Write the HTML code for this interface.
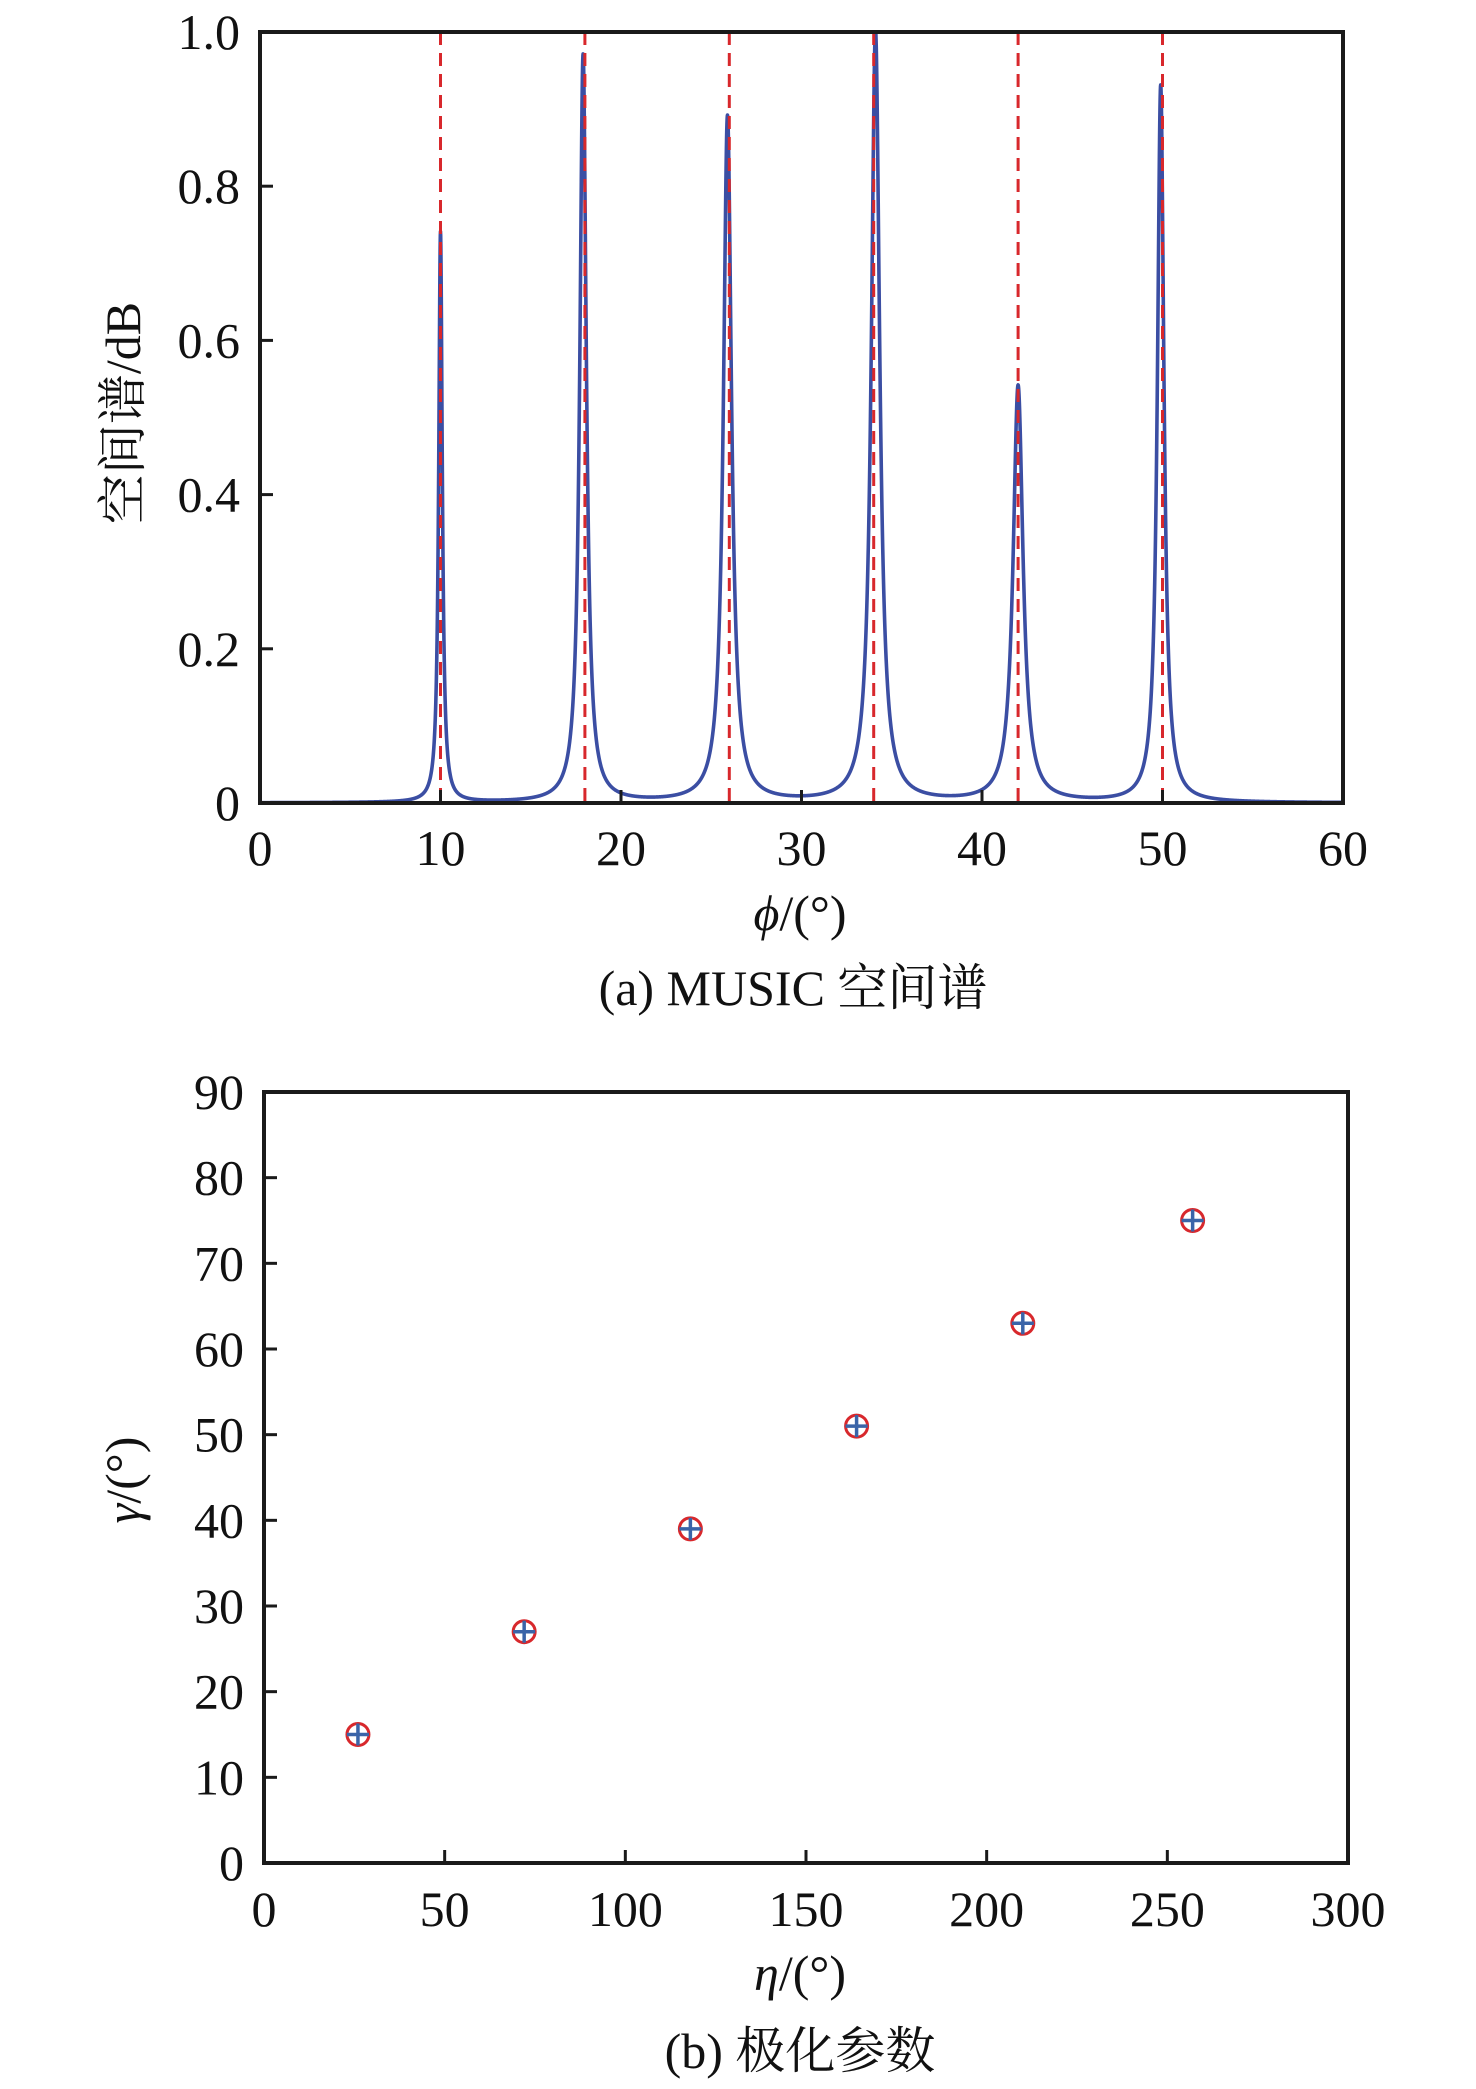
<!DOCTYPE html>
<html><head><meta charset="utf-8"><style>
html,body{margin:0;padding:0;background:#fff;}
svg{display:block;}
text{font-family:"Liberation Serif","Noto Serif CJK SC","Noto Sans CJK SC",serif;fill:#111;}
</style></head><body>
<svg id="fig" width="1476" height="2089" viewBox="0 0 1476 2089" xmlns="http://www.w3.org/2000/svg">
<g id="chartA"></g>
<g id="chartB"></g>
</svg>
<script>
// Chart A data
const aXTicks = [0,10,20,30,40,50,60];
const aYTicks = [0,0.2,0.4,0.6,0.8,1.0];
const aYTickLabels = ["0","0.2","0.4","0.6","0.8","1.0"];
const trueAngles = [10,18,26,34,42,50];
const peakAngles = [10.0,17.9,25.9,34.1,42.0,49.9];
const peakHeights = [0.74,0.97,0.89,1.0,0.54,0.93];
const peakWidths = [0.12,0.22,0.27,0.28,0.33,0.22];
// Chart B data
const bXTicks = [0,50,100,150,200,250,300];
const bYTicks = [0,10,20,30,40,50,60,70,80,90];
const etaVals = [26,72,118,164,210,257];
const gammaVals = [15,27,39,51,63,75];

const NS="http://www.w3.org/2000/svg";
function mk(parent,tag,attrs,txt){const e=document.createElementNS(NS,tag);for(const k in attrs)e.setAttribute(k,attrs[k]);if(txt!==undefined)e.textContent=txt;parent.appendChild(e);return e;}

// ---- Chart A ----
const A={l:260,r:1343,t:32,b:803,x0:0,x1:60,y0:0,y1:1};
const ax=v=>A.l+(v-A.x0)/(A.x1-A.x0)*(A.r-A.l);
const ay=v=>A.b-(v-A.y0)/(A.y1-A.y0)*(A.b-A.t);
const gA=document.getElementById('chartA');
let pts=[];
for(let i=0;i<=6000;i++){const x=i/100;let y=0;for(let k=0;k<peakAngles.length;k++){const w=peakWidths[k],d=x-peakAngles[k];y+=peakHeights[k]*w*w/(d*d+w*w);}y=Math.min(y,1);pts.push(ax(x).toFixed(2)+','+ay(y).toFixed(2));}
const curve=mk(gA,'polyline',{points:pts.join(' '),fill:'none',stroke:'#3b4ea3','stroke-width':3.6,'stroke-linejoin':'round'});


trueAngles.forEach(v=>{const l=mk(gA,'line',{x1:ax(v),x2:ax(v),y1:A.t,y2:A.b,stroke:'#d8282c','stroke-width':3,'stroke-dasharray':'13,8'});

});
const fa=mk(gA,'rect',{x:A.l,y:A.t,width:A.r-A.l,height:A.b-A.t,fill:'none',stroke:'#1a1a1a','stroke-width':4});


aXTicks.forEach(v=>{mk(gA,'line',{x1:ax(v),x2:ax(v),y1:A.b,y2:A.b-13,stroke:'#1a1a1a','stroke-width':3});
const t=mk(gA,'text',{x:ax(v),y:865,'font-size':50,'text-anchor':'middle'},String(v));

});
aYTicks.forEach((v,i)=>{mk(gA,'line',{x1:A.l,x2:A.l+13,y1:ay(v),y2:ay(v),stroke:'#1a1a1a','stroke-width':3});
const t=mk(gA,'text',{x:240,y:ay(v)+17,'font-size':50,'text-anchor':'end'},aYTickLabels[i]);

});
let t1=mk(gA,'text',{x:800,y:930,'font-size':50,'text-anchor':'middle'});
mk(t1,'tspan',{'font-style':'italic'},'ϕ');mk(t1,'tspan',{},'/(°)');


let t2=mk(gA,'text',{x:0,y:0,'font-size':50,'text-anchor':'middle',transform:'translate(140,413) rotate(-90)'},'空间谱/dB');


let t3=mk(gA,'text',{x:793,y:1005,'font-size':50,'text-anchor':'middle'},'(a) MUSIC 空间谱');



// ---- Chart B ----
const B={l:264,r:1348,t:1092,b:1863,x0:0,x1:300,y0:0,y1:90};
const bx=v=>B.l+(v-B.x0)/(B.x1-B.x0)*(B.r-B.l);
const by=v=>B.b-(v-B.y0)/(B.y1-B.y0)*(B.b-B.t);
const gB=document.getElementById('chartB');
const fb=mk(gB,'rect',{x:B.l,y:B.t,width:B.r-B.l,height:B.b-B.t,fill:'none',stroke:'#1a1a1a','stroke-width':4});


bXTicks.forEach(v=>{mk(gB,'line',{x1:bx(v),x2:bx(v),y1:B.b,y2:B.b-13,stroke:'#1a1a1a','stroke-width':3});
const t=mk(gB,'text',{x:bx(v),y:1926,'font-size':50,'text-anchor':'middle'},String(v));

});
bYTicks.forEach(v=>{mk(gB,'line',{x1:B.l,x2:B.l+13,y1:by(v),y2:by(v),stroke:'#1a1a1a','stroke-width':3});
const t=mk(gB,'text',{x:244,y:by(v)+17,'font-size':50,'text-anchor':'end'},String(v));

});
etaVals.forEach((e,i)=>{const cx=bx(e),cy=by(gammaVals[i]);
const g=mk(gB,'g',{});


mk(g,'circle',{cx:cx,cy:cy,r:11,fill:'none',stroke:'#d8282c','stroke-width':3});
mk(g,'line',{x1:cx-11,x2:cx+11,y1:cy,y2:cy,stroke:'#3a64a8','stroke-width':3.5});
mk(g,'line',{x1:cx,x2:cx,y1:cy-11,y2:cy+11,stroke:'#3a64a8','stroke-width':3.5});});
let b1=mk(gB,'text',{x:800,y:1990,'font-size':50,'text-anchor':'middle'});
mk(b1,'tspan',{'font-style':'italic'},'η');mk(b1,'tspan',{},'/(°)');


let b2=mk(gB,'text',{x:0,y:0,'font-size':50,'text-anchor':'middle',transform:'translate(140,1480) rotate(-90)'});
mk(b2,'tspan',{'font-style':'italic'},'γ');mk(b2,'tspan',{},'/(°)');


let b3=mk(gB,'text',{x:800,y:2068,'font-size':50,'text-anchor':'middle'},'(b) 极化参数');


</script>
</body></html>
